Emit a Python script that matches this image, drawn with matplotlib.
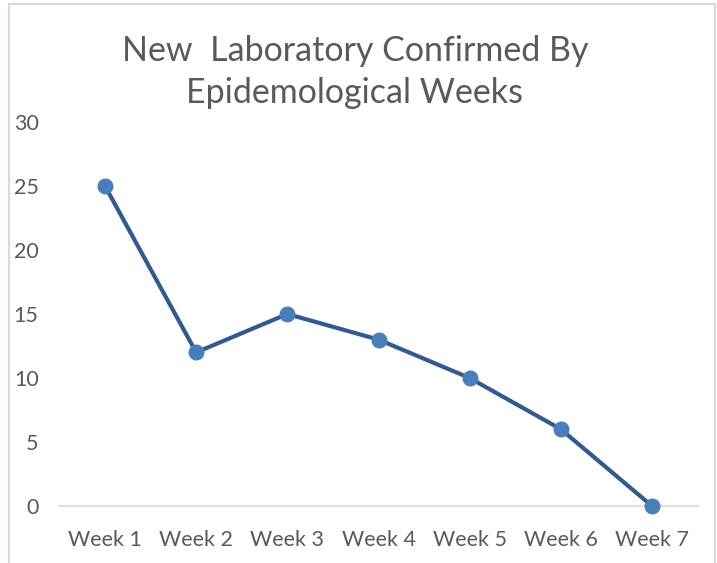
import matplotlib.pyplot as plt
from matplotlib.patches import Rectangle

semanas = ['Week 1', 'Week 2', 'Week 3', 'Week 4', 'Week 5', 'Week 6', 'Week 7']
casos = [25, 12, 15, 13, 10, 6, 0]
ticks_y = [0, 5, 10, 15, 20, 25, 30]

plt.rcParams['font.family'] = ['Lato', 'DejaVu Sans']

W, H = 717, 563
fig = plt.figure(figsize=(W / 100, H / 100), dpi=100)

# marco del grafico (gris claro)
fig.patches.append(Rectangle((9 / W, -0.1), (715 - 9) / W, 1.1 - 4.5 / H,
                             transform=fig.transFigure, fill=False,
                             edgecolor='#d9d9d9', linewidth=1.5))

ax = fig.add_axes([59.4 / W, 1 - 506 / H, (697.6 - 59.4) / W, (506 - 122) / H])
x = range(len(semanas))
ax.plot(x, casos, color='#335a8e', linewidth=3, marker='o', markersize=10.5,
        markerfacecolor='#4a7ebb', markeredgecolor='#4a7ebb', clip_on=False, zorder=3)

ax.set_xlim(-0.5, len(semanas) - 0.5)
ax.set_ylim(0, 30)
ax.set_xticks(list(x))
ax.set_xticklabels(semanas)
ax.set_yticks(ticks_y)
for s in ['top', 'right', 'left']:
    ax.spines[s].set_visible(False)
ax.spines['bottom'].set_color('#d9d9d9')
ax.spines['bottom'].set_linewidth(1.2)
ax.tick_params(axis='both', length=0, labelsize=15.5, labelcolor='#595959')
ax.tick_params(axis='y', pad=15)
ax.tick_params(axis='x', pad=17)

fig.text(355 / W, 1 - 72 / H, 'New  Laboratory Confirmed By\nEpidemological Weeks',
         ha='center', va='center', fontsize=24.5, color='#595959', linespacing=1.4)

fig.savefig('out.png', dpi=100)
